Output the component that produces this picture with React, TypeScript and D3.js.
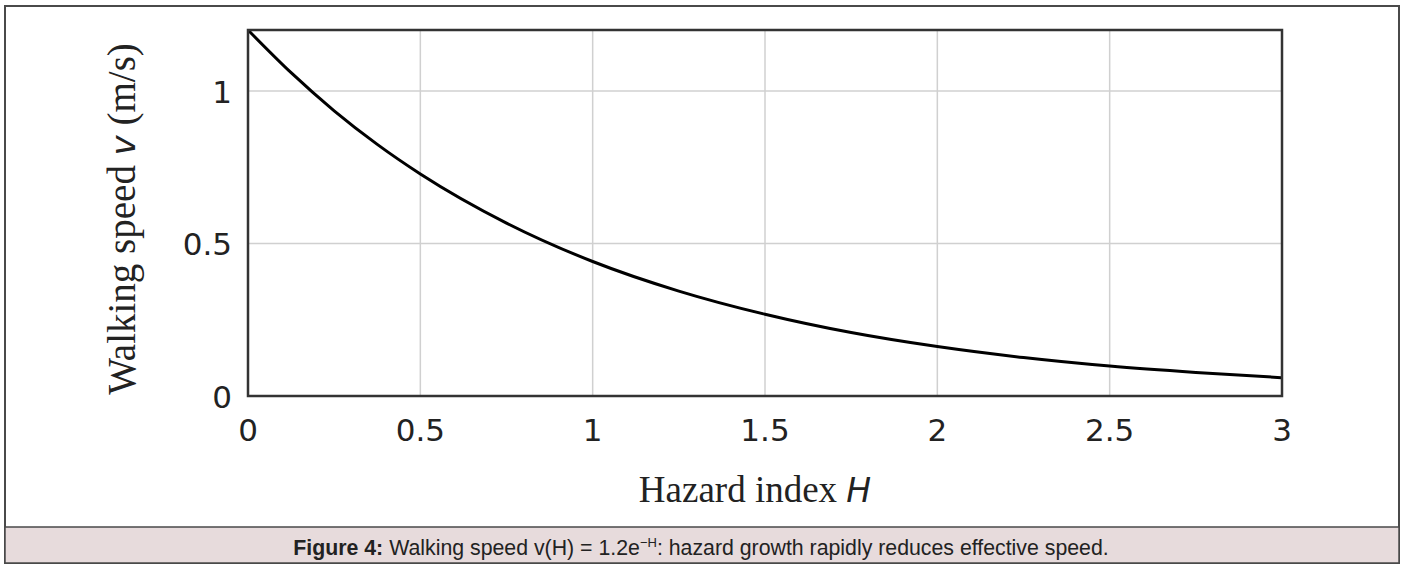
import React, { useEffect, useRef } from 'react';
import * as d3 from 'd3';

const width = 1402;
const height = 565;

// values
const hazard = [0, 0.125, 0.25, 0.375, 0.5, 0.75, 1, 1.25, 1.5, 1.75, 2, 2.25, 2.5, 2.75, 3];
const speed = [1.2, 1.06, 0.935, 0.825, 0.728, 0.567, 0.441, 0.344, 0.268, 0.208, 0.162, 0.126, 0.098, 0.077, 0.06];

const xTicks = [0, 0.5, 1, 1.5, 2, 2.5, 3];
const xTickLabels = ['0', '0.5', '1', '1.5', '2', '2.5', '3'];
const yTicks = [0, 0.5, 1];
const yTickLabels = ['0', '0.5', '1'];

const margin = { left: 248, right: 120, top: 30, bottom: 169 };

const App: React.FC = () => {
  const ref = useRef<SVGSVGElement>(null);

  useEffect(() => {
    if (!ref.current) return;
    const svg = d3.select(ref.current);
    svg.selectAll('*').remove();

    const x = d3.scaleLinear().domain([0, 3]).range([margin.left, width - margin.right]);
    const y = d3.scaleLinear().domain([0, 1.2]).range([height - margin.bottom, margin.top]);

    // outer frame
    svg
      .append('rect')
      .attr('x', 5)
      .attr('y', 6)
      .attr('width', 1394)
      .attr('height', 557)
      .attr('fill', '#fff')
      .attr('stroke', '#4a4a4a')
      .attr('stroke-width', 2);

    // caption band
    svg
      .append('rect')
      .attr('x', 5)
      .attr('y', 527)
      .attr('width', 1394)
      .attr('height', 36)
      .attr('fill', '#e7dbdc')
      .attr('stroke', '#4a4a4a')
      .attr('stroke-width', 1.5);

    const caption = svg
      .append('text')
      .attr('x', 701)
      .attr('y', 555)
      .attr('text-anchor', 'middle')
      .attr('font-family', '"Liberation Sans", Arial, sans-serif')
      .attr('font-size', 21.3)
      .attr('fill', '#222');
    caption.append('tspan').attr('font-weight', 'bold').text('Figure 4:');
    caption.append('tspan').text(' Walking speed v(H) = 1.2e');
    caption.append('tspan').attr('font-size', 13).attr('dy', -8).text('−H');
    caption.append('tspan').attr('dy', 8).text(': hazard growth rapidly reduces effective speed.');

    const plot = svg.append('g');

    // grid
    plot
      .selectAll('line.vgrid')
      .data(xTicks.slice(1, -1))
      .enter()
      .append('line')
      .attr('x1', d => x(d))
      .attr('x2', d => x(d))
      .attr('y1', y(1.2))
      .attr('y2', y(0))
      .attr('stroke', '#d0d0d0')
      .attr('stroke-width', 1.5);

    plot
      .selectAll('line.hgrid')
      .data(yTicks.slice(1))
      .enter()
      .append('line')
      .attr('x1', x(0))
      .attr('x2', x(3))
      .attr('y1', d => y(d))
      .attr('y2', d => y(d))
      .attr('stroke', '#d0d0d0')
      .attr('stroke-width', 1.5);

    // curve
    const line = d3
      .line<number>()
      .x((_, i) => x(hazard[i]))
      .y(d => y(d))
      .curve(d3.curveMonotoneX);

    plot
      .append('path')
      .datum(speed)
      .attr('d', line)
      .attr('fill', 'none')
      .attr('stroke', '#000')
      .attr('stroke-width', 3);

    // plot frame
    plot
      .append('rect')
      .attr('x', x(0))
      .attr('y', y(1.2))
      .attr('width', x(3) - x(0))
      .attr('height', y(0) - y(1.2))
      .attr('fill', 'none')
      .attr('stroke', '#333')
      .attr('stroke-width', 2.5);

    // tick labels
    plot
      .selectAll('text.xt')
      .data(xTicks)
      .enter()
      .append('text')
      .attr('x', d => x(d))
      .attr('y', 441)
      .attr('text-anchor', 'middle')
      .attr('font-family', '"DejaVu Sans", sans-serif')
      .attr('font-size', 31)
      .attr('fill', '#222')
      .text((_, i) => xTickLabels[i]);

    plot
      .selectAll('text.yt')
      .data(yTicks)
      .enter()
      .append('text')
      .attr('x', 232)
      .attr('y', d => y(d))
      .attr('dy', '0.38em')
      .attr('text-anchor', 'end')
      .attr('font-family', '"DejaVu Sans", sans-serif')
      .attr('font-size', 31)
      .attr('fill', '#222')
      .text((_, i) => yTickLabels[i]);

    // axis titles
    const xt = svg
      .append('text')
      .attr('x', 755)
      .attr('y', 502)
      .attr('text-anchor', 'middle')
      .attr('font-family', '"Liberation Serif", "Times New Roman", serif')
      .attr('font-size', 37)
      .attr('fill', '#222');
    xt.append('tspan').text('Hazard index ');
    xt.append('tspan').attr('font-family', '"DejaVu Sans", sans-serif').attr('font-style', 'italic').attr('font-size', 33).text('H');

    const yt = svg
      .append('text')
      .attr('transform', `translate(135, ${(y(0) + y(1.2)) / 2 + 6}) rotate(-90)`)
      .attr('text-anchor', 'middle')
      .attr('font-family', '"Liberation Serif", "Times New Roman", serif')
      .attr('font-size', 39)
      .attr('fill', '#222');
    yt.append('tspan').text('Walking speed ');
    yt.append('tspan').attr('font-family', '"DejaVu Sans", sans-serif').attr('font-style', 'italic').attr('font-size', 34).text('v');
    yt.append('tspan').text(' (m/s)');
  }, []);

  return (
    <div style={{ position: 'absolute', left: 0, top: 0, width, height, background: '#fff' }}>
      <svg ref={ref} width={width} height={height} />
    </div>
  );
};

export default App;
